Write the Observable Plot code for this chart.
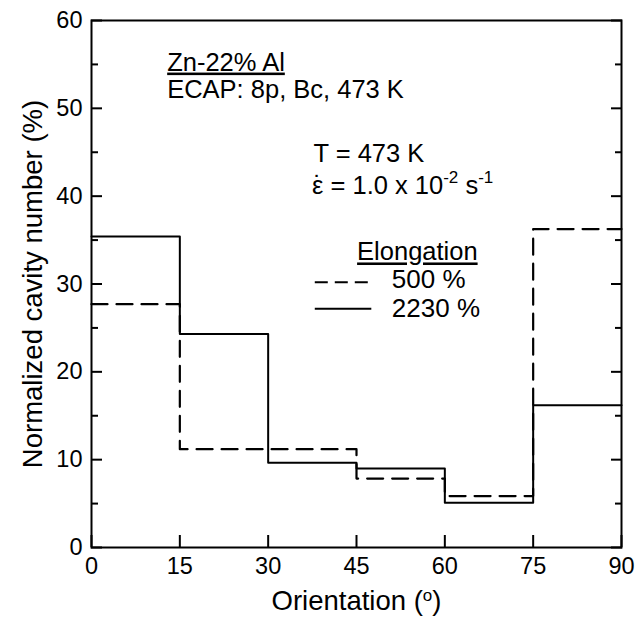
<!DOCTYPE html>
<html><head><meta charset="utf-8">
<script src="https://cdn.jsdelivr.net/npm/d3@7"></script>
<script src="https://cdn.jsdelivr.net/npm/@observablehq/plot@0.6"></script>
<style>
html,body{margin:0;padding:0;background:#fff;}
#chart svg{display:block;}
</style>
</head><body><div id="chart"></div>
<script>
// ---- data ----
const binEdges = [0, 15, 30, 45, 60, 75, 90];
const cavity500 = [27.7, 11.2, 11.2, 7.85, 5.85, 36.25];   // dashed
const cavity2230 = [35.4, 24.3, 9.65, 9.0, 5.1, 16.2];     // solid
const xTicks = [0, 15, 30, 45, 60, 75, 90];
const yTicks = [0, 10, 20, 30, 40, 50, 60];
const yMinorTicks = [5, 15, 25, 35, 45, 55];
const seriesNames = ["500 %", "2230 %"];
const xTitle = "Orientation (o)";
const yTitle = "Normalized cavity number (%)";
const notes = ["Zn-22% Al", "ECAP: 8p, Bc, 473 K", "T = 473 K", "ε = 1.0 x 10-2 s-1", "Elongation"];
const noteX = [12.85, 12.85, 37.7, 37.45, 45.1];
const noteY = [54.3, 51.18, 43.87, 40.27, 32.68];
const legendX1 = [38.0, 38.0];
const legendX2 = [47.35, 47.6];
const legendY = [30.2, 27.18];
const legendTextX = [51.0, 51.0];
const legendTextY = [29.5, 26.22];

// ---- build step tables ----
function steps(vals) {
  const pts = vals.map((v, i) => ({x: binEdges[i], y: v}));
  pts.push({x: binEdges[binEdges.length - 1], y: vals[vals.length - 1]});
  return pts;
}
const dashed = steps(cavity500);
const solid = steps(cavity2230);
const noteData = notes.map((t, i) => ({t, x: noteX[i], y: noteY[i]}));
const legendData = seriesNames.map((n, i) => ({n, x1: legendX1[i], x2: legendX2[i], y: legendY[i], tx: legendTextX[i], ty: legendTextY[i]}));

const FONT = "'Liberation Sans', Arial, Helvetica, sans-serif";

const plot = Plot.plot({
  width: 636,
  height: 617,
  marginLeft: 91,
  marginRight: 15,
  marginTop: 20,
  marginBottom: 70,
  style: {fontFamily: FONT, background: "#fff", color: "#000", overflow: "visible"},
  x: {domain: [0, 90]},
  y: {domain: [0, 60]},
  marks: [
    Plot.axisX({ticks: xTicks, tickSize: -12, tickPadding: 22, label: null, fontSize: 23.5, strokeWidth: 2}),
    Plot.axisY({ticks: yTicks, tickSize: -11, tickPadding: 20, label: null, fontSize: 23.5, strokeWidth: 2}),
    Plot.axisY({ticks: yMinorTicks, tickSize: -7, tickFormat: () => "", label: null, strokeWidth: 2}),
    Plot.axisY({anchor: "right", ticks: yTicks, tickSize: -11, tickFormat: () => "", label: null, strokeWidth: 2}),
    Plot.axisY({anchor: "right", ticks: yMinorTicks, tickSize: -7, tickFormat: () => "", label: null, strokeWidth: 2}),
    Plot.line(dashed, {x: "x", y: "y", curve: "step-after", stroke: "#000", strokeWidth: 2.2, strokeDasharray: "16,9"}),
    Plot.line(solid, {x: "x", y: "y", curve: "step-after", stroke: "#000", strokeWidth: 2}),
    Plot.frame({stroke: "#000", strokeWidth: 2}),
    Plot.text(noteData, {x: "x", y: "y", text: "t", textAnchor: "start", lineAnchor: "bottom", fontSize: 25.5, fill: "#000"}),
    Plot.ruleY(legendData.slice(0, 1), {x1: "x1", x2: "x2", y: "y", stroke: "#000", strokeWidth: 2, strokeDasharray: "13,7"}),
    Plot.ruleY(legendData.slice(1), {x1: "x1", x2: "x2", y: "y", stroke: "#000", strokeWidth: 2}),
    Plot.text(legendData, {x: "tx", y: "ty", text: "n", textAnchor: "start", lineAnchor: "bottom", fontSize: 26, fill: "#000"}),
    Plot.text([xTitle], {frameAnchor: "bottom", textAnchor: "middle", dy: 54, lineAnchor: "middle", fontSize: 27.5, fill: "#000"}),
    Plot.text([yTitle], {frameAnchor: "left", textAnchor: "middle", dx: -58, rotate: -90, lineAnchor: "middle", fontSize: 27.5, fill: "#000"})
  ]
});

document.getElementById("chart").appendChild(plot);

// rich text: superscripts, dot accent and underlines
const svg = d3.select(plot);
svg.selectAll("text").each(function() {
  const el = d3.select(this);
  const s = this.textContent;
  if (s === "Zn-22% Al" || s === "Elongation") {
    el.style("text-decoration", "underline");
  } else if (s === "ε = 1.0 x 10-2 s-1") {
    el.text(null);
    const eps = el.append("tspan").text("ε");
    const dot = el.append("tspan").text("˙");
    const rest = el.append("tspan").text(" = 1.0 x 10");
    el.append("tspan").attr("dy", -11).attr("font-size", 17).text("-2");
    el.append("tspan").attr("dy", 11).text(" s");
    el.append("tspan").attr("dy", -11).attr("font-size", 17).text("-1");
    const we = eps.node().getComputedTextLength();
    const wd = dot.node().getComputedTextLength();
    const start = we / 2 - wd / 2;
    dot.attr("dx", start - we);
    rest.attr("dx", we - (start + wd));
  } else if (s === xTitle) {
    el.text(null);
    el.append("tspan").text("Orientation (");
    el.append("tspan").attr("dy", -9).attr("font-size", 17).text("o");
    el.append("tspan").attr("dy", 9).text(")");
  }
});
</script>
</body></html>
